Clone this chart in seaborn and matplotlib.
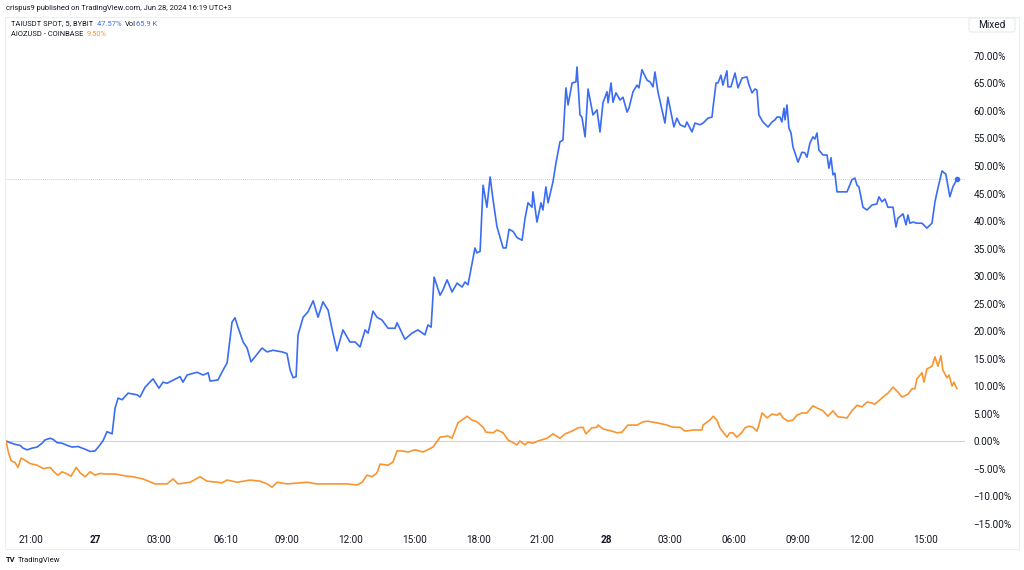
import pandas as pd
import seaborn as sns
import matplotlib.pyplot as plt
from matplotlib.patches import Rectangle, FancyBboxPatch

# time in hours relative to Jun 27 00:00 (UTC+3), values in % change
tai_hours = [
    -4.18, -3.99, -3.76, -3.52, -3.38, -3.19, -2.96, -2.72, -2.49, -2.35, -2.11, -1.97, -1.78,
    -1.55, -1.31, -1.08, -0.80, -0.47, -0.23, 0.00, 0.23, 0.38, 0.56, 0.80,
    0.94, 1.08, 1.27, 1.55,
    1.97, 2.11, 2.35, 2.72, 3.00, 3.19, 3.38, 3.99, 4.13, 4.32, 4.79, 5.07, 5.31, 5.40, 5.77,
    6.01, 6.20, 6.43, 6.57, 6.71, 6.95, 7.14, 7.32, 7.51, 7.84, 8.08, 8.36, 8.78, 9.01, 9.16,
    9.30, 9.44, 9.53, 9.77, 10.00, 10.24, 10.47, 10.70, 10.94, 11.17, 11.36, 11.64, 11.97,
    12.21, 12.44, 12.68, 12.82, 13.05, 13.24, 13.47, 13.76, 14.09, 14.18, 14.55, 14.88, 15.16,
    15.49, 15.63, 15.78, 15.92, 16.20, 16.34, 16.53, 16.76, 17.00, 17.23, 17.37, 17.51, 17.84,
    17.93, 18.08, 18.22, 18.40, 18.55, 18.69, 18.87, 19.01, 19.16, 19.30, 19.44, 19.63, 19.81,
    20.05, 20.19, 20.33, 20.52, 20.56, 20.75, 20.94, 21.03, 21.17, 21.27, 21.50, 21.64, 21.83,
    21.97, 22.11, 22.21, 22.40, 22.58, 22.63, 22.77, 22.86, 23.01, 23.15, 23.29, 23.38, 23.57,
    23.71, 23.85, 24.04, 24.09, 24.23, 24.32, 24.46, 24.65, 24.79, 24.98, 25.07, 25.26, 25.45,
    25.54, 25.68, 25.92, 26.06, 26.20, 26.29, 26.43, 26.62, 26.76, 26.90, 27.09, 27.18, 27.32,
    27.47, 27.70, 27.79, 27.94, 28.03, 28.17, 28.40, 28.55, 28.78, 28.97, 29.02, 29.16, 29.25,
    29.39, 29.48, 29.67, 29.72, 29.86, 30.05, 30.19, 30.38, 30.61, 30.71, 30.85, 30.99, 31.08,
    31.17, 31.36, 31.60, 31.79, 31.93, 32.02, 32.16, 32.25, 32.35, 32.40, 32.49, 32.58, 32.68,
    32.77, 33.01, 33.19, 33.33, 33.43, 33.57, 33.71, 33.80, 33.90, 33.99, 34.18, 34.37, 34.46,
    34.56, 34.65, 34.74, 34.84, 35.31, 35.54, 35.68, 35.78, 35.87, 36.06, 36.25, 36.48, 36.71,
    36.81, 36.95, 37.09, 37.23, 37.47, 37.61, 37.70, 37.94, 38.08, 38.17, 38.26, 38.41, 38.59,
    38.83, 39.06, 39.30, 39.44, 39.58, 39.77, 39.95, 40.14, 40.28, 40.47,
]
tai_pct = [
    0.0, -0.3, -0.6, -0.8, -1.3, -1.6, -1.3, -1.1, -0.4, 0.2, 0.5, 0.3, -0.3,
    -0.4, -0.8, -1.1, -1.0, -1.5, -1.9, -1.8, -0.7, 0.1, 1.7, 1.3,
    6.0, 7.8, 7.5, 8.7,
    8.4, 8.0, 9.8, 11.3, 9.6, 10.7, 10.5, 11.7, 10.7, 12.0, 12.5, 12.0, 12.4, 10.9, 11.1,
    12.9, 14.2, 21.6, 22.4, 20.7, 18.0, 16.9, 14.4, 15.3, 16.9, 16.2, 16.5, 16.2, 15.9, 12.9,
    11.5, 11.7, 19.3, 22.5, 23.5, 25.5, 22.5, 25.3, 23.8, 19.6, 16.4, 20.2, 18.0,
    18.0, 17.1, 20.2, 19.6, 23.6, 22.5, 22.0, 20.5, 20.5, 21.5, 18.5, 19.6, 20.2,
    19.3, 21.1, 20.7, 29.8, 26.5, 27.5, 29.3, 27.1, 28.7, 28.0, 28.9, 28.4, 35.1,
    34.2, 34.5, 46.5, 42.5, 48.0, 43.8, 39.0, 37.1, 35.1, 35.1, 38.5, 38.1, 37.0,
    36.5, 40.5, 43.3, 42.5, 45.3, 39.8, 43.3, 42.0, 46.2, 43.3, 47.1, 50.5, 54.4,
    54.7, 64.2, 61.1, 65.1, 65.3, 68.0, 59.3, 58.9, 55.3, 64.0, 61.1, 59.3, 60.2,
    56.2, 61.5, 63.5, 61.5, 65.1, 61.6, 63.3, 62.0, 62.5, 59.8, 60.5, 63.5, 64.7,
    64.2, 67.5, 65.6, 65.3, 64.4, 67.1, 63.5, 60.2, 57.8, 62.5, 58.9, 57.1, 58.7,
    57.5, 57.1, 58.0, 56.9, 56.2, 57.8, 57.5, 57.8, 58.7, 58.9, 60.7, 65.1, 65.1,
    66.5, 64.7, 67.3, 64.4, 64.4, 66.9, 64.2, 66.0, 66.2, 64.7, 63.3, 64.0, 63.8,
    59.3, 58.0, 57.1, 58.0, 58.4, 58.9, 58.9, 58.0, 60.5, 58.4, 61.1, 56.9, 56.0,
    53.5, 50.7, 52.5, 52.4, 51.6, 54.2, 55.3, 54.9, 56.0, 52.9, 52.0, 52.0, 49.6,
    51.5, 48.4, 48.7, 45.3, 45.3, 47.5, 47.8, 46.5, 46.2, 42.5, 42.0, 42.9, 43.1,
    44.4, 43.5, 44.0, 42.5, 42.5, 38.9, 40.5, 41.3, 39.3, 41.1, 39.6, 39.8, 39.6,
    39.6, 38.7, 39.6, 43.5, 46.0, 49.1, 48.5, 44.4, 46.2, 47.57,
]

aioz_hours = [
    -4.18, -4.08, -3.94, -3.76, -3.62, -3.47, -3.29, -3.05, -2.72, -2.44, -2.11, -1.88, -1.74,
    -1.55, -1.31, -1.13, -0.89, -0.70, -0.47, -0.23, 0.00, 0.23, 0.56, 0.94, 1.50,
    1.78, 2.25, 2.82, 3.38, 3.66, 3.90, 4.46, 4.93, 5.26,
    5.96, 6.20, 6.67, 7.28, 7.75, 8.08, 8.31, 8.55, 9.01, 9.62, 9.95, 10.42, 11.17, 11.83, 12.30,
    12.54, 12.77, 13.01, 13.24, 13.38, 13.76, 13.99, 14.18, 14.41, 14.70, 15.02, 15.40, 15.87,
    16.20, 16.57, 16.76, 17.04, 17.47, 17.70, 17.93, 18.22, 18.36, 18.69, 18.87, 19.16, 19.39,
    19.81, 19.95, 20.19, 20.33, 20.56, 20.80, 21.22, 21.50, 21.83, 22.07, 22.40, 22.68, 22.91,
    23.05, 23.33, 23.57, 23.62, 23.85, 24.27, 24.51, 24.74, 25.02, 25.45, 25.73, 25.96, 26.39,
    26.86, 27.14, 27.47, 27.70, 28.08, 28.50, 28.55, 28.87, 29.02, 29.20, 29.34, 29.67, 29.81,
    29.95, 30.14, 30.38, 30.52, 30.71, 30.89, 31.08, 31.17, 31.32, 31.55, 31.79, 32.02, 32.16,
    32.30, 32.54, 32.77, 32.96, 33.19, 33.43, 33.71, 33.90, 34.18, 34.41, 34.65, 34.88, 35.31,
    35.54, 35.78, 36.01, 36.25, 36.48, 36.62, 36.86, 37.00, 37.23, 37.47, 37.70, 37.89, 38.17,
    38.36, 38.50, 38.59, 38.83, 38.92, 39.06, 39.30, 39.44, 39.58, 39.72, 39.81, 40.00, 40.10,
    40.24, 40.33, 40.47,
]
aioz_pct = [
    0.0, -1.9, -3.6, -3.9, -4.8, -3.1, -3.5, -4.1, -4.4, -5.0, -4.8, -5.8, -6.2,
    -5.6, -6.0, -6.4, -4.8, -5.8, -6.5, -5.6, -6.2, -5.9, -6.0, -6.0, -6.4,
    -6.5, -6.9, -7.8, -7.8, -6.9, -7.8, -7.5, -6.5, -7.3,
    -7.6, -7.1, -7.5, -7.1, -7.3, -7.8, -8.4, -7.5, -7.8, -7.6, -7.5, -7.8, -7.8, -7.8, -8.0,
    -7.5, -6.2, -6.5, -5.8, -4.2, -4.4, -3.8, -1.8, -1.8, -2.0, -1.6, -2.0, -1.1,
    0.7, 0.9, 0.5, 3.3, 4.5, 3.8, 3.5, 2.5, 1.6, 1.5, 2.0, 1.5, 0.2,
    -0.7, 0.0, -0.7, -0.2, -0.4, 0.0, 0.5, 1.3, 0.5, 1.3, 1.8, 2.4, 2.5,
    1.3, 2.4, 2.5, 2.9, 2.2, 1.8, 1.5, 1.6, 2.9, 2.9, 3.5, 3.6, 3.3,
    2.9, 2.5, 2.5, 1.8, 2.0, 2.0, 2.9, 3.8, 4.5, 3.8, 2.4, 0.7, 1.5,
    1.5, 0.7, 1.6, 2.4, 2.7, 2.5, 1.8, 2.9, 5.1, 4.2, 4.9, 4.7, 5.1,
    4.2, 3.6, 3.8, 4.7, 5.1, 5.1, 6.4, 6.0, 5.5, 4.5, 5.5, 4.4, 4.2,
    5.5, 6.5, 6.2, 7.1, 6.9, 6.7, 7.5, 8.0, 8.7, 9.8, 8.9, 8.0, 8.5,
    9.5, 9.5, 11.3, 12.4, 10.7, 13.1, 13.6, 15.3, 13.6, 15.5, 12.9, 11.5, 12.0,
    10.0, 10.7, 9.5,
]

tick_hours = [-3, 0, 3, 6 + 10 / 60, 9, 12, 15, 18, 21, 24, 27, 30, 33, 36, 39]
tick_labels = ["21:00", "27", "03:00", "06:10", "09:00", "12:00", "15:00", "18:00",
               "21:00", "28", "03:00", "06:00", "09:00", "12:00", "15:00"]
price_ticks = list(range(-15, 75, 5))

blue = "#3a6cf4"
orange = "#f99530"
text_col = "#131722"

df = pd.concat([
    pd.DataFrame({"hour": tai_hours, "pct": tai_pct, "symbol": "TAIUSDT"}),
    pd.DataFrame({"hour": aioz_hours, "pct": aioz_pct, "symbol": "AIOZUSD"}),
])

sns.set_theme(style="white")
plt.rcParams["font.family"] = ["Roboto", "DejaVu Sans"]

W, H = 1024, 570
fig = plt.figure(figsize=(W / 100, H / 100), dpi=100)
ax = fig.add_axes([5 / W, 1 - 530 / H, 960 / W, 513 / H])

sns.lineplot(data=df, x="hour", y="pct", hue="symbol", palette={"TAIUSDT": blue, "AIOZUSD": orange},
             estimator=None, sort=False, legend=False, linewidth=1.2, ax=ax)

ax.axhline(0, color="#d1d4dc", linewidth=0.8, zorder=0)
ax.axhline(tai_pct[-1], color=blue, alpha=0.45, linewidth=0.6, linestyle=(0, (1, 1.5)), zorder=0)
ax.plot(tai_hours[-1], tai_pct[-1], "o", color=blue, markersize=3)

ax.set_xlim(-4.23, 40.85)
ax.set_ylim(-16.18, 77.09)
ax.set_xticks(tick_hours)
ax.set_xticklabels(tick_labels)
for lab in ax.get_xticklabels():
    if lab.get_text() in ("27", "28"):
        lab.set_fontweight("bold")
ax.yaxis.tick_right()
ax.set_yticks(price_ticks)
ax.set_yticklabels([f"{v:.2f}%".replace("-", "\u2212") for v in price_ticks])
ax.tick_params(axis="both", length=0, labelsize=7.2, colors=text_col)
ax.tick_params(axis="x", pad=3.5)
ax.tick_params(axis="y", pad=6)
ax.set_xlabel("")
ax.set_ylabel("")
for s in ax.spines.values():
    s.set_visible(False)

# pane frame and scale-mode button
fig.patches.append(Rectangle((5 / W, 1 - 549 / H), 1014 / W, 532 / H, transform=fig.transFigure,
                             fill=False, edgecolor="#eceef2", linewidth=0.8))
fig.patches.append(FancyBboxPatch((969 / W, 1 - 32 / H), 46 / W, 14 / H, transform=fig.transFigure,
                                  boxstyle="round,pad=0,rounding_size=0.003", facecolor="white",
                                  edgecolor="#e6e8ee", linewidth=0.7))
fig.text(992 / W, 1 - 25 / H, "Mixed", ha="center", va="center", fontsize=7.2, color=text_col)


def text_run(x_px, y_px, parts, fs):
    # draw coloured pieces of text one after another on a line
    x = x_px / W
    for s, c in parts:
        t = fig.text(x, 1 - y_px / H, s, fontsize=fs, color=c, va="center")
        fig.canvas.draw()
        x = t.get_window_extent().x1 / W


fs = 5.4
fig.text(6 / W, 1 - 8 / H, "crispus9 published on TradingView.com, Jun 28, 2024 16:19 UTC+3",
         fontsize=fs, color=text_col, va="center")
text_run(11, 24, [("TAIUSDT SPOT, 5, BYBIT  ", text_col), ("47.57%  ", blue),
                  ("Vol", text_col), ("65.9 K", blue)], fs)
text_run(11, 34, [("AIOZUSD - COINBASE  ", text_col), ("9.50%", orange)], fs)

fig.text(6 / W, 1 - 560 / H, "TV", fontsize=5.5, fontweight="bold", color=text_col, va="center")
fig.text(18 / W, 1 - 560 / H, "TradingView", fontsize=5.5, color=text_col, va="center")

fig.savefig("out.png", dpi=100)
